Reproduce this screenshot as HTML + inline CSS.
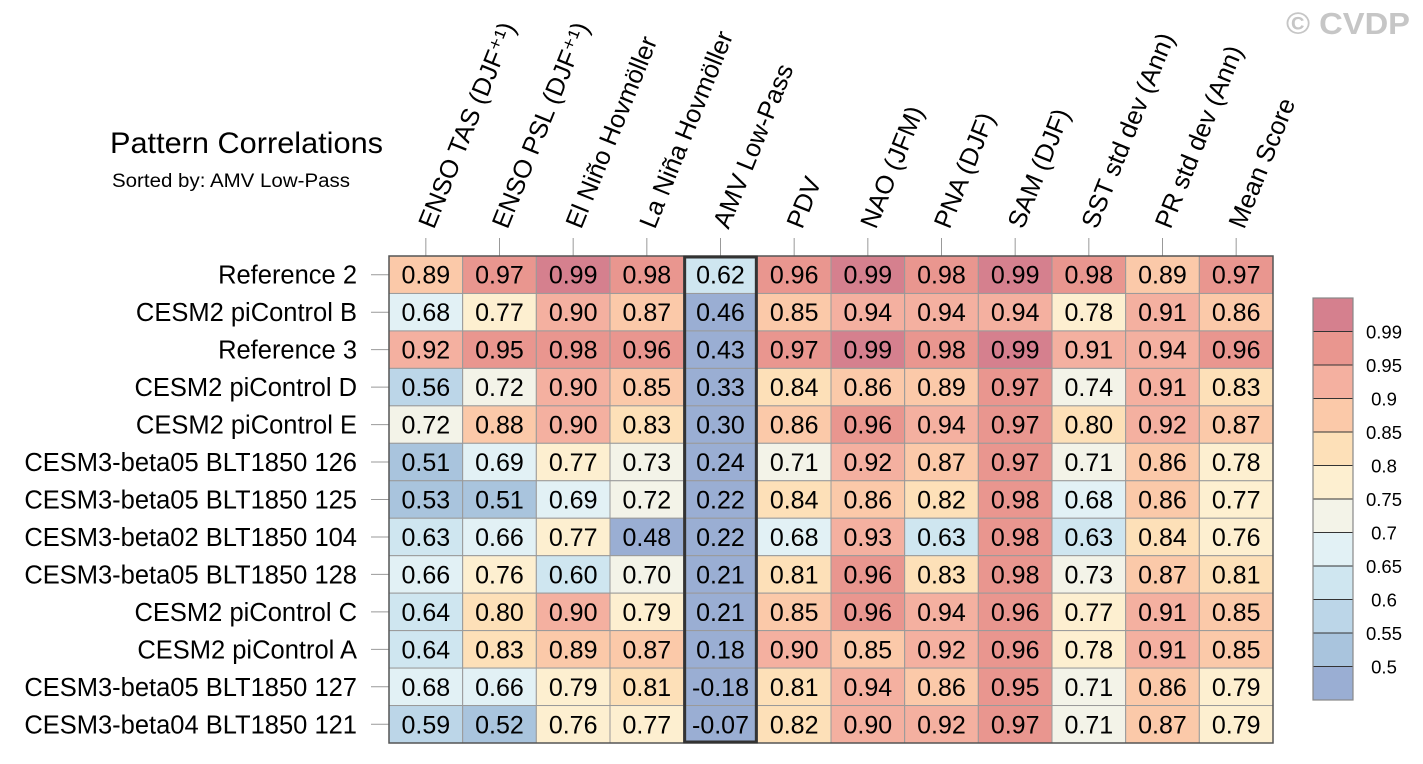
<!DOCTYPE html>
<html><head><meta charset="utf-8"><style>
html,body{margin:0;padding:0;background:#fff;}
svg{display:block;font-family:"Liberation Sans",sans-serif;}
</style></head><body>
<svg id="chart" width="1423" height="764" viewBox="0 0 1423 764" xmlns="http://www.w3.org/2000/svg">
<text x="1410" y="34" text-anchor="end" font-size="31" font-weight="bold" fill="#c6c6c6" textLength="124" lengthAdjust="spacingAndGlyphs">© CVDP</text>
<text x="110" y="153" font-size="30" fill="#000" textLength="273" lengthAdjust="spacingAndGlyphs">Pattern Correlations</text>
<text x="112" y="187" font-size="19" fill="#000" textLength="238" lengthAdjust="spacingAndGlyphs">Sorted by: AMV Low-Pass</text>
<g id="grid"></g>
<g id="cbar"></g>
</svg>
<script>
const columns = ["ENSO TAS (DJF\u207A\u00B9)","ENSO PSL (DJF\u207A\u00B9)","El Niño Hovmöller","La Niña Hovmöller","AMV Low-Pass","PDV","NAO (JFM)","PNA (DJF)","SAM (DJF)","SST std dev (Ann)","PR std dev (Ann)","Mean Score"];
const rows = ["Reference 2","CESM2 piControl B","Reference 3","CESM2 piControl D","CESM2 piControl E","CESM3-beta05 BLT1850 126","CESM3-beta05 BLT1850 125","CESM3-beta02 BLT1850 104","CESM3-beta05 BLT1850 128","CESM2 piControl C","CESM2 piControl A","CESM3-beta05 BLT1850 127","CESM3-beta04 BLT1850 121"];
const values = [
[0.89,0.97,0.99,0.98,0.62,0.96,0.99,0.98,0.99,0.98,0.89,0.97],
[0.68,0.77,0.90,0.87,0.46,0.85,0.94,0.94,0.94,0.78,0.91,0.86],
[0.92,0.95,0.98,0.96,0.43,0.97,0.99,0.98,0.99,0.91,0.94,0.96],
[0.56,0.72,0.90,0.85,0.33,0.84,0.86,0.89,0.97,0.74,0.91,0.83],
[0.72,0.88,0.90,0.83,0.30,0.86,0.96,0.94,0.97,0.80,0.92,0.87],
[0.51,0.69,0.77,0.73,0.24,0.71,0.92,0.87,0.97,0.71,0.86,0.78],
[0.53,0.51,0.69,0.72,0.22,0.84,0.86,0.82,0.98,0.68,0.86,0.77],
[0.63,0.66,0.77,0.48,0.22,0.68,0.93,0.63,0.98,0.63,0.84,0.76],
[0.66,0.76,0.60,0.70,0.21,0.81,0.96,0.83,0.98,0.73,0.87,0.81],
[0.64,0.80,0.90,0.79,0.21,0.85,0.96,0.94,0.96,0.77,0.91,0.85],
[0.64,0.83,0.89,0.87,0.18,0.90,0.85,0.92,0.96,0.78,0.91,0.85],
[0.68,0.66,0.79,0.81,-0.18,0.81,0.94,0.86,0.95,0.71,0.86,0.79],
[0.59,0.52,0.76,0.77,-0.07,0.82,0.90,0.92,0.97,0.71,0.87,0.79]];
const levels = [0.5,0.55,0.6,0.65,0.7,0.75,0.8,0.85,0.9,0.95,0.99];
const levelLabels = ["0.5","0.55","0.6","0.65","0.7","0.75","0.8","0.85","0.9","0.95","0.99"];
const palette = ["#9aaed3","#a9c4dd","#bcd6e8","#cfe6f0","#e2f1f5","#f3f3e8","#fdefd0","#fde0b8","#fbc9a9","#f4b0a0","#e9968f","#d5808e"];
const highlightCol = 4;

const NS="http://www.w3.org/2000/svg";
const X0=389, X1=1273, Y0=256, Y1=743;
const cw=(X1-X0)/columns.length, rh=(Y1-Y0)/rows.length;
const xPos=i=>X0+i*cw, yPos=j=>Y0+j*rh;
function colorFor(v){let b=0;for(let k=0;k<levels.length;k++){if(v>=levels[k]-1e-9)b=k+1;}return palette[b];}
function mk(tag,attrs,parent){const e=document.createElementNS(NS,tag);for(const k in attrs)e.setAttribute(k,attrs[k]);parent.appendChild(e);return e;}
const g=document.getElementById('grid');
values.forEach((row,j)=>{
  row.forEach((v,i)=>{
    const r=mk('rect',{x:xPos(i),y:yPos(j),width:cw,height:rh,fill:colorFor(v),stroke:'#9a9a9a','stroke-width':1},g);
    
    
    const t=mk('text',{x:xPos(i)+cw/2,y:yPos(j)+rh/2+9,'text-anchor':'middle','font-size':25,fill:'#000'},g);
    t.textContent=v.toFixed(2);
    
    
  });
});
rows.forEach((name,j)=>{
  const cy=yPos(j)+rh/2;
  mk('line',{x1:371,x2:X0,y1:cy,y2:cy,stroke:'#999','stroke-width':1},g);
  const t=mk('text',{x:357,y:cy+9,'text-anchor':'end','font-size':25.5,fill:'#000'},g);
  t.textContent=name;
  
  
});
columns.forEach((name,i)=>{
  const cx=xPos(i)+cw/2;
  mk('line',{x1:cx,x2:cx,y1:238,y2:Y0,stroke:'#999','stroke-width':1},g);
  const t=mk('text',{x:0,y:0,'text-anchor':'start','font-size':25.5,fill:'#000',transform:`translate(${cx+8},${230}) rotate(-68)`},g);
  t.textContent=name;
  
  
});
const ob=mk('rect',{x:X0,y:Y0,width:X1-X0,height:Y1-Y0,fill:'none',stroke:'#555','stroke-width':1.5},g);


const hb=mk('rect',{x:xPos(highlightCol)+1,y:Y0+1,width:cw-2,height:Y1-Y0-2,fill:'none',stroke:'#333','stroke-width':3},g);



const cb=document.getElementById('cbar');
const CX=1313, CW=40, CT=298, CB=700, bh=(CB-CT)/palette.length;
palette.forEach((c,k)=>{
  const y=CB-(k+1)*bh;
  const r=mk('rect',{x:CX,y:y,width:CW,height:bh,fill:c,stroke:'#333','stroke-width':1},cb);
  
  
});
mk('rect',{x:CX,y:CT,width:CW,height:CB-CT,fill:'none',stroke:'#888','stroke-width':1.2},cb);
levelLabels.forEach((l,k)=>{
  const y=CB-(k+1)*bh;
  const t=mk('text',{x:1384,y:y+7,'text-anchor':'middle','font-size':18.5,fill:'#000'},cb);
  t.textContent=l;
  
  
});
</script>
</body></html>
